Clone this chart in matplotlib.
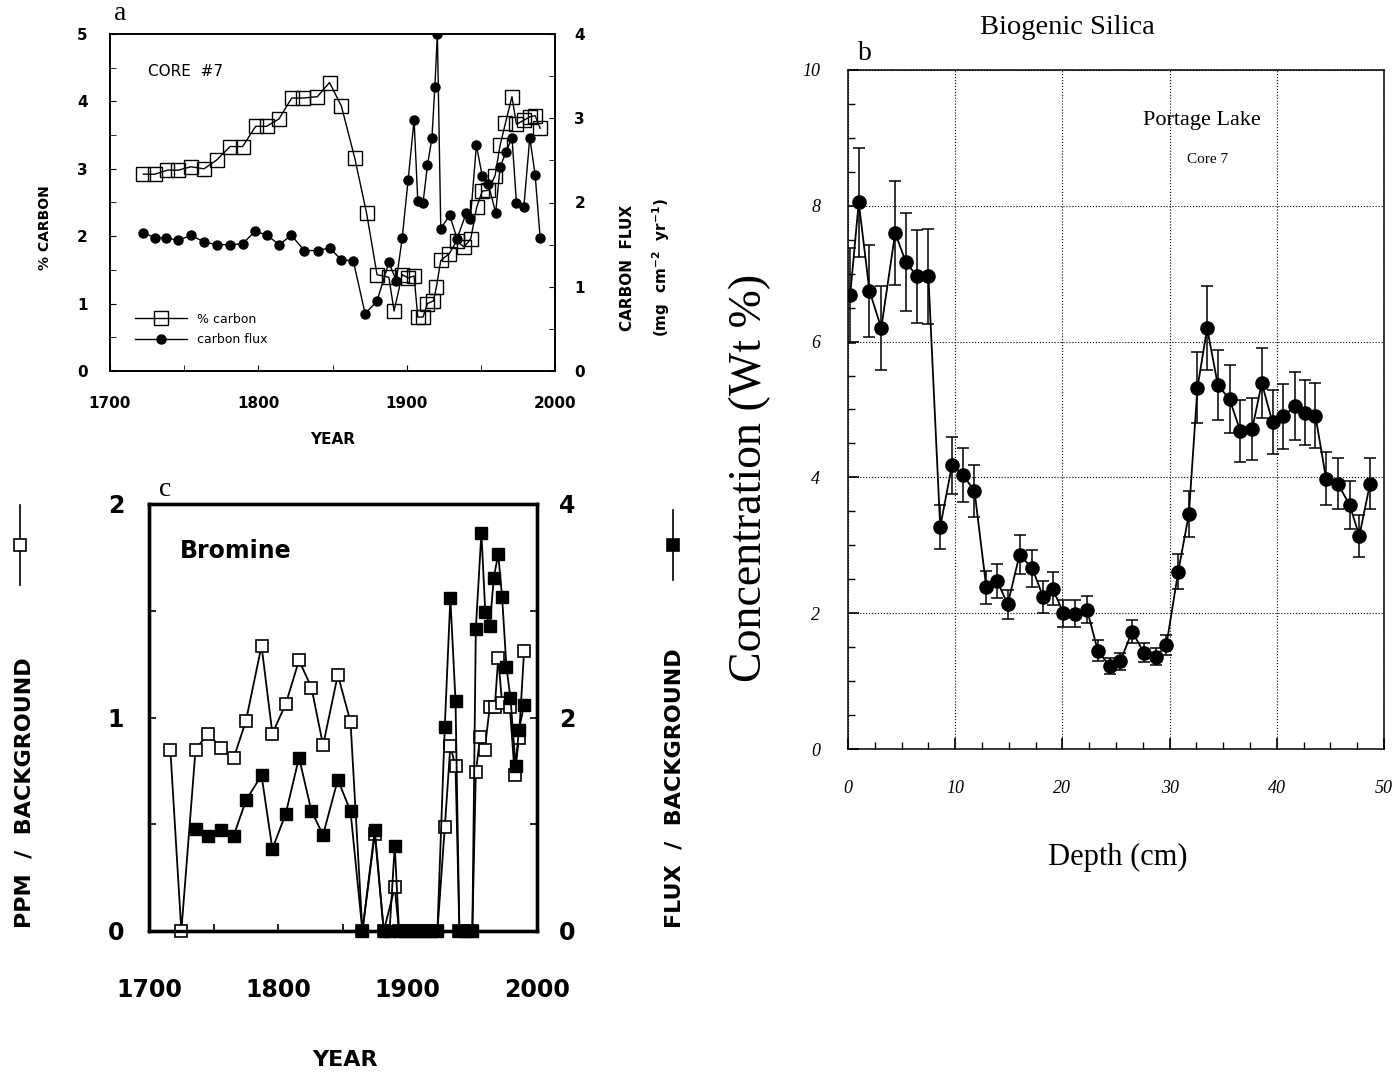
import matplotlib
matplotlib.use("Agg")
import matplotlib.pyplot as plt
from matplotlib.lines import Line2D
from matplotlib.ticker import MultipleLocator

# ---- panel a: core #7, % carbon and carbon flux ----
carbon_years = [1722.5, 1730.3, 1738.7, 1746, 1754.6, 1763.4, 1771.9, 1780.9, 1789.4, 1798.2,
                1805.6, 1813.9, 1822.5, 1830.3, 1839.8, 1848, 1856, 1865, 1873, 1880,
                1888, 1891.5, 1897, 1901, 1905, 1907.5, 1911, 1914, 1918, 1920,
                1923, 1928.7, 1933.7, 1938.7, 1943.2, 1947.2, 1951, 1955, 1959.6, 1963,
                1966.6, 1971, 1974, 1979, 1983, 1986.6, 1990]
carbon_pct = [2.92, 2.92, 2.98, 2.98, 3.03, 3.0, 3.13, 3.33, 3.33, 3.63,
              3.63, 3.74, 4.05, 4.05, 4.07, 4.28, 3.93, 3.16, 2.34, 1.43,
              1.39, 0.89, 1.43, 1.38, 1.41, 0.80, 0.80, 1.0, 1.04, 1.24,
              1.64, 1.74, 1.93, 1.84, 1.96, 2.43, 2.67, 2.68, 2.9, 3.35,
              3.68, 4.07, 3.66, 3.72, 3.77, 3.79, 3.6]
flux_years = [1722.5, 1730.5, 1738, 1746, 1754.6, 1763.6, 1772, 1781, 1789.4, 1797.8,
              1806, 1814, 1822.3, 1831, 1840, 1848, 1856, 1864, 1872, 1880,
              1888, 1893, 1897, 1901, 1905, 1907.5, 1911, 1914, 1917, 1919,
              1920.7, 1923, 1929, 1934, 1940, 1943, 1947, 1951, 1955, 1960,
              1963, 1967, 1971, 1974, 1979, 1983, 1986.6, 1990]
carbon_flux = [1.64, 1.58, 1.58, 1.55, 1.61, 1.53, 1.50, 1.50, 1.51, 1.66,
               1.61, 1.50, 1.61, 1.43, 1.43, 1.46, 1.32, 1.31, 0.68, 0.83,
               1.29, 1.07, 1.58, 2.27, 2.98, 2.02, 1.99, 2.44, 2.76, 3.37,
               4.0, 1.69, 1.85, 1.57, 1.87, 1.81, 2.68, 2.31, 2.22, 1.88,
               2.42, 2.6, 2.77, 2.0, 1.95, 2.77, 2.33, 1.58]

# ---- panel b: biogenic silica, Portage Lake core 7 ----
depth_cm = [0.2, 1, 2, 3.1, 4.4, 5.4, 6.45, 7.5, 8.6, 9.7,
            10.7, 11.8, 12.9, 13.9, 14.9, 16, 17.2, 18.2, 19.1, 20.1,
            21.2, 22.3, 23.3, 24.4, 25.4, 26.5, 27.6, 28.7, 29.7, 30.8,
            31.8, 32.6, 33.5, 34.5, 35.6, 36.6, 37.7, 38.6, 39.6, 40.6,
            41.7, 42.6, 43.6, 44.6, 45.7, 46.8, 47.7, 48.7]
silica_wt = [6.68, 8.05, 6.75, 6.2, 7.6, 7.17, 6.96, 6.96, 3.27, 4.18,
             4.04, 3.8, 2.38, 2.48, 2.13, 2.86, 2.66, 2.24, 2.36, 2.0,
             1.99, 2.05, 1.45, 1.22, 1.29, 1.73, 1.42, 1.36, 1.53, 2.61,
             3.46, 5.32, 6.2, 5.36, 5.15, 4.68, 4.71, 5.39, 4.81, 4.9,
             5.05, 4.95, 4.91, 3.98, 3.91, 3.59, 3.14, 3.91]
silica_err = [0.7, 0.8, 0.68, 0.62, 0.76, 0.72, 0.69, 0.7, 0.33, 0.42,
              0.4, 0.38, 0.24, 0.25, 0.21, 0.29, 0.27, 0.23, 0.24, 0.2,
              0.2, 0.2, 0.15, 0.12, 0.13, 0.17, 0.14, 0.13, 0.15, 0.26,
              0.34, 0.52, 0.62, 0.52, 0.5, 0.46, 0.46, 0.52, 0.47, 0.48,
              0.5, 0.48, 0.48, 0.39, 0.38, 0.35, 0.31, 0.38]

# ---- panel c: bromine ----
br_ppm_years = [1716.5, 1725, 1736, 1745.6, 1756, 1765.5, 1775, 1787, 1795.4, 1805.7,
                1816, 1825.6, 1834.6, 1846, 1855.8, 1865, 1874.6, 1881.5, 1890, 1893.3,
                1898, 1903, 1908, 1913, 1918, 1923, 1928.7, 1933, 1937, 1940,
                1945, 1950, 1952.7, 1956, 1959.6, 1963.5, 1967.4, 1970, 1973, 1979,
                1982.8, 1986, 1990]
br_ppm = [0.85, 0, 0.85, 0.925, 0.855, 0.81, 0.985, 1.336, 0.925, 1.063,
          1.268, 1.14, 0.87, 1.2, 0.98, 0, 0.455, 0, 0.204, 0,
          0, 0, 0, 0, 0, 0, 0.486, 0.866, 0.772, 0,
          0, 0, 0.745, 0.907, 0.85, 1.051, 1.051, 1.279, 1.067, 1.048,
          0.73, 0.902, 1.31]
br_flux_years = [1736, 1745.6, 1756, 1765.5, 1775, 1787, 1795.4, 1805.7, 1816, 1825.6,
                 1834.6, 1846, 1855.8, 1865, 1874.6, 1881.5, 1886, 1890, 1893.3, 1898,
                 1903, 1908, 1913, 1918, 1923, 1928.7, 1933, 1937, 1940, 1945,
                 1950, 1952.7, 1957, 1960, 1963.5, 1966.6, 1970, 1973, 1976.4, 1979.5,
                 1983.4, 1986, 1990]
br_flux = [0.957, 0.894, 0.948, 0.894, 1.224, 1.459, 0.769, 1.098, 1.625, 1.123,
           0.9, 1.418, 1.123, 0, 0.948, 0, 0, 0.8, 0, 0,
           0, 0, 0, 0, 0, 1.913, 3.12, 2.155, 0, 0,
           0, 2.83, 3.73, 2.99, 2.86, 3.31, 3.53, 3.13, 2.47, 2.18,
           1.55, 1.88, 2.12]

year_ticks = [1700, 1800, 1900, 2000]
year_labels = ['1700', '1800', '1900', '2000']
a_left_ticks = [0, 1, 2, 3, 4, 5]
a_right_ticks = [0, 1, 2, 3, 4]
b_x_ticks = [0, 10, 20, 30, 40, 50]
b_y_ticks = [0, 2, 4, 6, 8, 10]
c_left_ticks = [0, 1, 2]
c_right_ticks = [0, 2, 4]

W, H = 1398, 1072
SERIF = 'Liberation Serif'
fig = plt.figure(figsize=(W / 100, H / 100), dpi=100)


def box(l, t, r, b):
    return [l / W, 1 - b / H, (r - l) / W, (b - t) / H]


def ftext(x, y, s, **kw):
    kw.setdefault('ha', 'center')
    kw.setdefault('va', 'center')
    fig.text(x / W, 1 - y / H, s, **kw)


# ================= panel a =================
ax_a = fig.add_axes(box(110, 34, 555, 371))
ax_a.plot(carbon_years, carbon_pct, '-s', color='black', mfc='none', mec='black',
          ms=9.5, lw=1, mew=1, label='% carbon')
ax_a.set_xlim(1700, 2000)
ax_a.set_ylim(0, 5)
ax_a2 = ax_a.twinx()
ax_a2.plot(flux_years, carbon_flux, '-o', color='black', ms=6.5, lw=1, label='carbon flux')
ax_a2.set_ylim(0, 4)

ax_a.set_xticks(year_ticks, labels=year_labels, fontsize=11, fontweight='bold')
ax_a.set_yticks(a_left_ticks, labels=[str(t) for t in a_left_ticks], fontsize=11, fontweight='bold')
ax_a2.set_yticks(a_right_ticks, labels=[str(t) for t in a_right_ticks], fontsize=11, fontweight='bold')
ax_a.xaxis.set_minor_locator(MultipleLocator(50))
ax_a.yaxis.set_minor_locator(MultipleLocator(0.5))
ax_a2.yaxis.set_minor_locator(MultipleLocator(0.5))
ax_a.tick_params(axis='x', which='both', direction='in', top=False, length=4, pad=18)
ax_a.tick_params(axis='y', which='both', direction='in', right=False, length=4, pad=16)
ax_a2.tick_params(axis='y', which='both', direction='in', length=4, pad=14)
for ax in (ax_a, ax_a2):
    for s in ax.spines.values():
        s.set_linewidth(1.2)

h1, l1 = ax_a.get_legend_handles_labels()
h2, l2 = ax_a2.get_legend_handles_labels()
ax_a2.legend(h1 + h2, l1 + l2, loc='lower left', bbox_to_anchor=(0.03, 0.04),
             frameon=False, prop={'size': 9}, handlelength=4.2, labelspacing=0.6)
ax_a.text(0.085, 0.89, 'CORE  #7', transform=ax_a.transAxes, fontsize=11,
          ha='left', va='center')

ftext(120, 14, 'a', fontsize=20, family=SERIF)
ftext(45, 228, '% CARBON', rotation=90, fontsize=10, fontweight='bold')
ftext(627, 268, 'CARBON  FLUX', rotation=90, fontsize=11, fontweight='bold')
ftext(661, 268, r'(mg  cm$^{\mathbf{-2}}$  yr$^{\mathbf{-1}}$)', rotation=90,
      fontsize=11, fontweight='bold')
ftext(333, 440, 'YEAR', fontsize=11, fontweight='bold')

# ================= panel b =================
ax_b = fig.add_axes(box(848, 70, 1384, 749))
ax_b.errorbar(depth_cm, silica_wt, yerr=silica_err, fmt='-o', color='black', ms=9.5,
              lw=1.3, elinewidth=1.1, capsize=4.5, capthick=1.1)
ax_b.set_xlim(0, 50)
ax_b.set_ylim(0, 10)
ax_b.set_xticks(b_x_ticks, labels=[str(t) for t in b_x_ticks], fontsize=13,
                family=SERIF, style='italic')
ax_b.set_yticks(b_y_ticks, labels=[str(t) for t in b_y_ticks], fontsize=13,
                family=SERIF, style='italic')
ax_b.xaxis.set_minor_locator(MultipleLocator(2.5))
ax_b.yaxis.set_minor_locator(MultipleLocator(0.5))
ax_b.tick_params(which='major', direction='in', length=8, width=1.2, top=False, right=False)
ax_b.tick_params(axis='x', which='major', pad=22)
ax_b.tick_params(axis='y', which='major', pad=20)
ax_b.tick_params(which='minor', direction='in', length=5, width=1, top=False, right=False)
ax_b.grid(True, which='major', linestyle=':', color='black', lw=0.8)
for s in ax_b.spines.values():
    s.set_linewidth(1.1)
ax_b.text(0.66, 0.925, 'Portage Lake', transform=ax_b.transAxes, fontsize=16,
          family=SERIF, ha='center', va='center')
ax_b.text(0.67, 0.868, 'Core 7', transform=ax_b.transAxes, fontsize=11,
          family=SERIF, ha='center', va='center')

ftext(1067, 28, 'Biogenic Silica', fontsize=20.5, family=SERIF)
ftext(865, 53, 'b', fontsize=20, family=SERIF)
ftext(750, 478, 'Concentration (Wt %)', rotation=90, fontsize=33, family=SERIF)
ftext(1118, 857, 'Depth (cm)', fontsize=22, family=SERIF)

# ================= panel c =================
ax_c = fig.add_axes(box(149, 504, 537, 931))
ax_c.plot(br_ppm_years, br_ppm, '-s', color='black', mfc='white', mec='black', ms=8.5,
          lw=1.3, mew=1.2, clip_on=False, zorder=3)
ax_c.set_xlim(1700, 2000)
ax_c.set_ylim(0, 2)
ax_c2 = ax_c.twinx()
ax_c2.plot(br_flux_years, br_flux, '-s', color='black', mfc='black', mec='black', ms=8.5,
           lw=1.3, clip_on=False, zorder=3)
ax_c2.set_ylim(0, 4)

ax_c.set_xticks(year_ticks, labels=year_labels, fontsize=17, fontweight='bold')
ax_c.set_yticks(c_left_ticks, labels=[str(t) for t in c_left_ticks], fontsize=17, fontweight='bold')
ax_c2.set_yticks(c_right_ticks, labels=[str(t) for t in c_right_ticks], fontsize=17, fontweight='bold')
ax_c.xaxis.set_minor_locator(MultipleLocator(50))
ax_c.yaxis.set_minor_locator(MultipleLocator(0.5))
ax_c2.yaxis.set_minor_locator(MultipleLocator(1))
ax_c.tick_params(axis='x', which='both', direction='in', top=False, length=5, width=1.2, pad=34)
ax_c.tick_params(axis='y', which='both', direction='in', right=False, length=5, width=1.2, pad=18)
ax_c2.tick_params(axis='y', which='both', direction='in', length=5, width=1.2, pad=16)
for ax in (ax_c, ax_c2):
    for s in ax.spines.values():
        s.set_linewidth(2.4)
ax_c.text(0.08, 0.89, 'Bromine', transform=ax_c.transAxes, fontsize=17,
          fontweight='bold', ha='left', va='center')

ftext(165, 490, 'c', fontsize=20, family=SERIF)
ftext(25, 793, 'PPM  /  BACKGROUND', rotation=90, fontsize=16, fontweight='bold')
ftext(675, 788, 'FLUX  /  BACKGROUND', rotation=90, fontsize=16, fontweight='bold')
ftext(345, 1060, 'YEAR', fontsize=16, fontweight='bold')

# rotated legend keys next to the panel c axis titles
for x, y0, y1, face in [(20, 505, 585, 'white'), (673, 510, 580, 'black')]:
    fig.add_artist(Line2D([x / W, x / W], [1 - y0 / H, 1 - y1 / H], color='black',
                          lw=1.2, transform=fig.transFigure))
    fig.add_artist(Line2D([x / W], [1 - (y0 + y1) / 2 / H], marker='s', ms=8,
                          mfc=face, mec='black', mew=1.2, transform=fig.transFigure))

fig.savefig('out.png', dpi=100)
